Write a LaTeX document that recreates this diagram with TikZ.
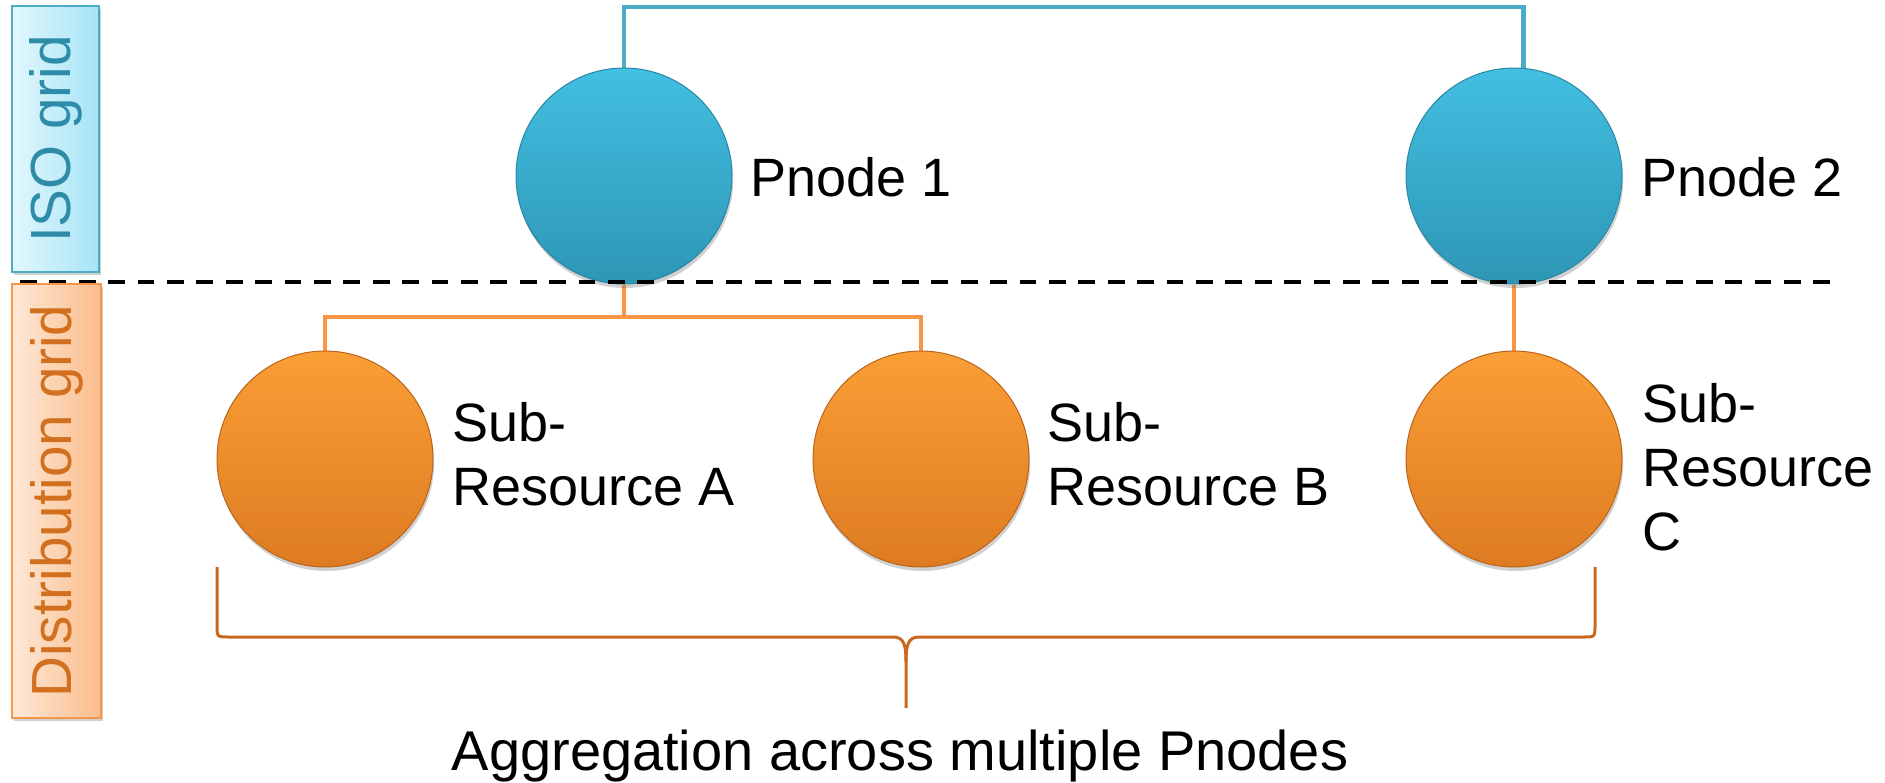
\documentclass[tikz,border=0pt]{standalone}
\usepackage{fontspec}
\setmainfont{Liberation Sans}
\usetikzlibrary{shadows,backgrounds}

\definecolor{isoEdge}{HTML}{4BACC6}
\definecolor{isoText}{HTML}{2F8CA8}
\definecolor{isoLight}{HTML}{E2F7FD}
\definecolor{isoDeep}{HTML}{A6E4F6}
\definecolor{distEdge}{HTML}{F79646}
\definecolor{distText}{HTML}{D2701F}
\definecolor{distLight}{HTML}{FDE8D8}
\definecolor{distDeep}{HTML}{FBBD8B}
\definecolor{blueTop}{HTML}{42BFE2}
\definecolor{blueBot}{HTML}{2E96B5}
\definecolor{blueRim}{HTML}{2A86A3}
\definecolor{orgTop}{HTML}{FA9E36}
\definecolor{orgBot}{HTML}{DE7B21}
\definecolor{orgRim}{HTML}{B9651C}
\definecolor{braceCol}{HTML}{C9671F}

\tikzset{
  lbl/.style={inner sep=0pt, font=\fontsize{27}{32}\selectfont, align=left},
  disc/.style={circle, minimum size=108pt, inner sep=0pt, line width=0.5pt,
    drop shadow={shadow xshift=0.6pt, shadow yshift=-2pt, opacity=0.3, fill=black!60}},
  bluedisc/.style={disc, draw=blueRim, top color=blueTop, bottom color=blueBot},
  orgdisc/.style={disc, draw=orgRim, top color=orgTop, bottom color=orgBot},
  isoline/.style={draw=isoEdge, line width=2.3pt},
  distline/.style={draw=distEdge, line width=2.3pt},
  gridbox/.style={rectangle, inner sep=0pt, line width=1.2pt,
    drop shadow={shadow xshift=1.2pt, shadow yshift=-1.5pt, opacity=0.3, fill=black!60}},
  isobox/.style={gridbox, draw=isoEdge, left color=isoLight, right color=isoDeep},
  distbox/.style={gridbox, draw=distEdge, left color=distLight, right color=distDeep},
  sidetext/.style={inner sep=0pt, rotate=90, font=\fontsize{28.3}{34}\selectfont},
  brace/.style={draw=braceCol, line width=1.5pt, line join=round},
}

\begin{document}
\begin{tikzpicture}[x=0.5pt, y=-0.5pt]
  \useasboundingbox (0,0) rectangle (1885,782);

  % pricing nodes and sub-resources
  \node[bluedisc] (p1) at (624,176) {};
  \node[bluedisc] (p2) at (1514,176) {};
  \node[orgdisc] (sa) at (325,459) {};
  \node[orgdisc] (sb) at (921,459) {};
  \node[orgdisc] (sc) at (1514,459) {};

  % connectors, kept behind the discs
  \coordinate (topbar) at (0,7);
  \coordinate (bus) at (0,317);
  \begin{scope}[on background layer]
    \draw[isoline] (p1.north) -- (p1.north |- topbar) -| (p2.85);
    \draw[distline] (p1.south) -- (p1.south |- bus) -| (sa.north);
    \draw[distline] (p1.south |- bus) -| (sb.north);
    \draw[distline] (p2.south) -- (sc.north);
  \end{scope}

  % boundary between the two grids
  \coordinate (divL) at (20,282);
  \coordinate (divR) at (1836,282);
  \draw[black, line width=2pt, dash pattern=on 8.4pt off 6.3pt] (divL) -- (divR);

  % side labels
  \node[isobox, minimum width=43.5pt, minimum height=133pt] (iso) at (55.5,139) {};
  \node[sidetext, text=isoText] (isot) at (iso.center) {ISO grid};
  \node[distbox, minimum width=44.5pt, minimum height=217pt] (dist) at (56.5,501) {};
  \node[sidetext, text=distText] (distt) at (dist.center) {Distribution grid};

  % node labels
  \node[lbl, anchor=base west] (p1l) at (750,196) {Pnode 1};
  \node[lbl, anchor=base west] (p2l) at (1641,196) {Pnode 2};
  \node[lbl, anchor=north west] (sal) at (452,402) {Sub-\\Resource A};
  \node[lbl, anchor=north west] (sbl) at (1047,402) {Sub-\\Resource B};
  \node[lbl, anchor=north west] (scl) at (1642,383) {Sub-\\Resource\\C};

  % aggregation brace
  \draw[brace] (217,567) -- (217,625) .. controls (217,637) .. (229,637)
    -- (893,637) .. controls (904,637) and (906,645) .. (906,662) -- (906,708);
  \draw[brace] (1595,567) -- (1595,625) .. controls (1595,637) .. (1583,637)
    -- (919,637) .. controls (908,637) and (906,645) .. (906,662);
  \node[lbl, anchor=base, font=\fontsize{28}{33}\selectfont] (agg) at (900,770)
    {Aggregation across multiple Pnodes};
\end{tikzpicture}
\end{document}
